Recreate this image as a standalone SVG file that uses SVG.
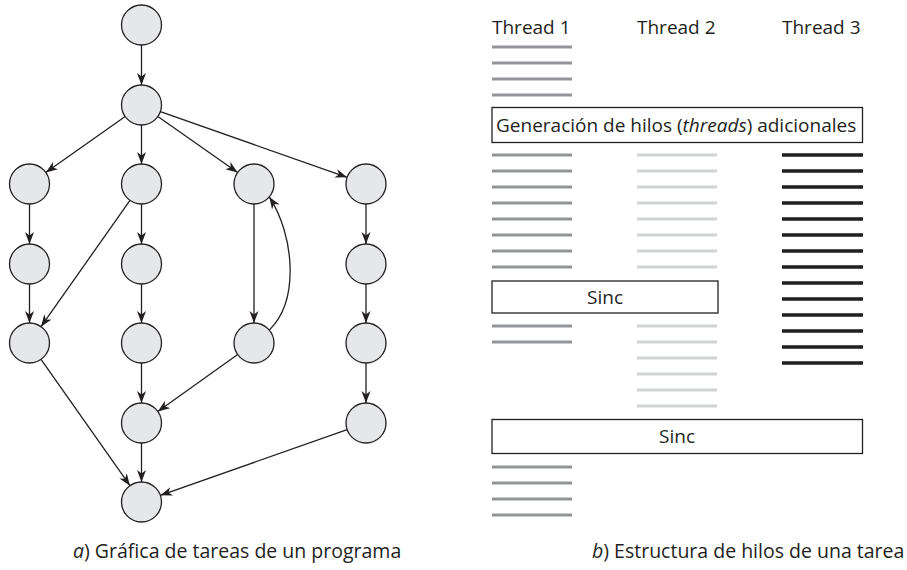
<svg xmlns="http://www.w3.org/2000/svg" width="907" height="570" viewBox="0 0 907 570">
<defs>
<marker id="arr" markerUnits="userSpaceOnUse" markerWidth="13" markerHeight="10" refX="12" refY="5" orient="auto">
<path d="M0,0.5 L12,5 L0,9.5 L3.5,5 z" fill="#231f20"/>
</marker>
<style>
.node{fill:#e6e7e8;stroke:#231f20;stroke-width:1.3}
.edge{fill:none;stroke:#231f20;stroke-width:1.3;marker-end:url(#arr)}
.t1{stroke:#939598;stroke-width:3}
.t2{stroke:#d1d3d4;stroke-width:3}
.t3{stroke:#231f20;stroke-width:3.5}
.box{fill:#fff;stroke:#231f20;stroke-width:1.3}
.lbl{font-family:"Open Sans","Noto Sans",sans-serif;font-size:19px;fill:#231f20}
.cap{font-family:"Open Sans","Noto Sans",sans-serif;font-size:19.5px;fill:#231f20}
</style>
</defs>
<rect width="907" height="570" fill="#fff"/>
<g id="connectors">
<path class="edge" d="M141.5,45 L141.5,85"/>
<path class="edge" d="M125.16,116.53 L45.84,172.47"/>
<path class="edge" d="M141.5,125 L141.5,164"/>
<path class="edge" d="M157.87,116.49 L237.63,172.51"/>
<path class="edge" d="M160.37,111.64 L347.13,177.36"/>
<path class="edge" d="M29.5,204 L29.5,244"/>
<path class="edge" d="M141.5,204 L141.5,244"/>
<path class="edge" d="M366,204 L366,244"/>
<path class="edge" d="M129.98,200.35 L41.02,326.65"/>
<path class="edge" d="M29.5,284 L29.5,323"/>
<path class="edge" d="M141.5,284 L141.5,323"/>
<path class="edge" d="M366,284 L366,323"/>
<path class="edge" d="M254,204 L254,323"/>
<path class="edge" d="M269.3,330.1 C300,300 294,235 269.3,196.9"/>
<path class="edge" d="M141.5,363 L141.5,403"/>
<path class="edge" d="M237.7,354.59 L157.8,411.41"/>
<path class="edge" d="M366,363 L366,403"/>
<path class="edge" d="M41.02,359.35 L129.98,485.65"/>
<path class="edge" d="M141.5,443 L141.5,482"/>
<path class="edge" d="M347.13,429.64 L160.37,495.36"/>
</g>
<g id="n1"><circle class="node" cx="141.5" cy="25" r="20"/></g>
<g id="n2"><circle class="node" cx="141.5" cy="105" r="20"/></g>
<g id="n3"><circle class="node" cx="29.5" cy="184" r="20"/></g>
<g id="n4"><circle class="node" cx="141.5" cy="184" r="20"/></g>
<g id="n5"><circle class="node" cx="254" cy="184" r="20"/></g>
<g id="n6"><circle class="node" cx="366" cy="184" r="20"/></g>
<g id="n7"><circle class="node" cx="29.5" cy="264" r="20"/></g>
<g id="n8"><circle class="node" cx="141.5" cy="264" r="20"/></g>
<g id="n9"><circle class="node" cx="366" cy="264" r="20"/></g>
<g id="n10"><circle class="node" cx="29.5" cy="343" r="20"/></g>
<g id="n11"><circle class="node" cx="141.5" cy="343" r="20"/></g>
<g id="n12"><circle class="node" cx="254" cy="343" r="20"/></g>
<g id="n13"><circle class="node" cx="366" cy="343" r="20"/></g>
<g id="n14"><circle class="node" cx="141.5" cy="423" r="20"/></g>
<g id="n15"><circle class="node" cx="366" cy="423" r="20"/></g>
<g id="n16"><circle class="node" cx="141.5" cy="502" r="20"/></g>

<g id="threads">
<text class="lbl" x="492" y="34">Thread 1</text>
<text class="lbl" x="637" y="34">Thread 2</text>
<text class="lbl" x="782" y="34">Thread 3</text>
<path class="t1" d="M492,47H572M492,63H572M492,79H572M492,95H572"/>
<path class="t1" d="M492,155H572M492,171H572M492,187H572M492,203H572M492,219H572M492,235H572M492,251H572M492,267H572"/>
<path class="t2" d="M637,155H717M637,171H717M637,187H717M637,203H717M637,219H717M637,235H717M637,251H717M637,267H717"/>
<path class="t3" d="M782,155H863M782,171H863M782,187H863M782,203H863M782,219H863M782,235H863M782,251H863M782,267H863M782,283H863M782,299H863M782,315H863M782,331H863M782,347H863M782,363H863"/>
<path class="t1" d="M492,326H572M492,342H572"/>
<path class="t2" d="M637,326H717M637,342H717M637,358H717M637,374H717M637,390H717M637,406H717"/>
<path class="t1" d="M492,467H572M492,483H572M492,499H572M492,515H572"/>
</g>
<g id="gen">
<rect class="box" x="492" y="107.5" width="370.5" height="35"/>
<text class="lbl" x="496" y="132">Generación de hilos (<tspan font-style="italic">threads</tspan>) adicionales</text>
</g>
<g id="sinc1">
<rect class="box" x="492" y="281" width="226" height="32"/>
<text class="lbl" x="605" y="304" text-anchor="middle">Sinc</text>
</g>
<g id="sinc2">
<rect class="box" x="492" y="419.5" width="370.5" height="34"/>
<text class="lbl" x="677" y="443" text-anchor="middle">Sinc</text>
</g>
<text class="cap" x="73" y="558"><tspan font-style="italic">a</tspan>) Gráfica de tareas de un programa</text>
<text class="cap" x="592" y="558"><tspan font-style="italic">b</tspan>) Estructura de hilos de una tarea</text>
</svg>
